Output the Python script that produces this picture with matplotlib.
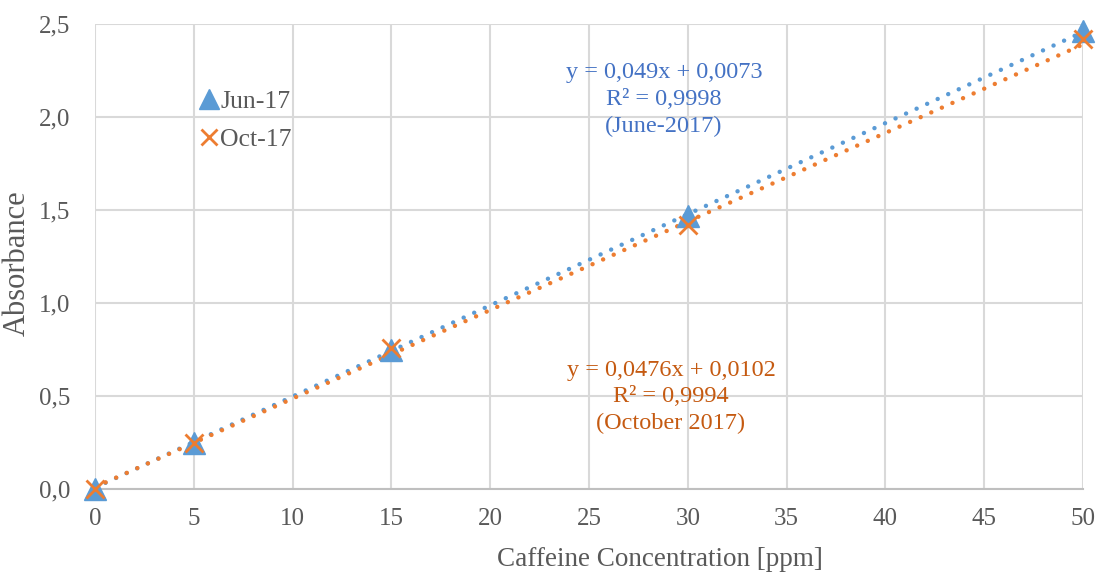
import matplotlib.pyplot as plt
import numpy as np

# caffeine calibration data
conc = [0, 5, 15, 30, 50]
abs_jun = [0.0, 0.25, 0.75, 1.47, 2.46]
abs_oct = [0.0, 0.25, 0.76, 1.42, 2.42]

# trend lines as reported
fit_jun = (0.049, 0.0073)
fit_oct = (0.0476, 0.0102)

blue = '#5B9BD5'
orange = '#ED7D31'
grid_col = '#D9D9D9'
text_col = '#595959'

plt.rcParams['font.family'] = ['Liberation Serif', 'DejaVu Serif']
plt.rcParams['font.size'] = 18

fig = plt.figure(figsize=(10.98, 5.76), dpi=100)
ax = fig.add_axes([0.0865, 0.151, 0.8998, 0.8073])

xs = np.array([0, 50])
ax.plot(xs, fit_jun[0] * xs + fit_jun[1], linestyle=(0, (0.01, 2.6)), color=blue,
        linewidth=3.2, dash_capstyle='round', zorder=2)
ax.plot(xs, fit_oct[0] * xs + fit_oct[1], linestyle=(0, (0.01, 2.6)), color=orange,
        linewidth=3.2, dash_capstyle='round', zorder=2)

ax.plot(conc, abs_jun, linestyle='none', marker='^', markersize=16, color=blue,
        label='Jun-17', zorder=3, clip_on=False)
ax.plot(conc, abs_oct, linestyle='none', marker='x', markersize=13, markeredgewidth=2,
        color=orange, label='Oct-17', zorder=4, clip_on=False)

ax.set_xlim(0, 50)
ax.set_ylim(0, 2.5)
ax.set_xticks(np.arange(0, 51, 5))
ax.set_yticks(np.arange(0, 2.51, 0.5))
ax.set_yticklabels([f'{v:.1f}'.replace('.', ',') for v in np.arange(0, 2.51, 0.5)])
ax.tick_params(length=0, colors=text_col, labelsize=18)
ax.tick_params(axis='x', pad=14)
ax.tick_params(axis='y', pad=18)

ax.grid(True, color=grid_col, linewidth=1.5)
ax.set_axisbelow(True)
for side in ['left', 'right', 'top']:
    ax.spines[side].set_visible(False)
ax.spines['bottom'].set_color('#BFBFBF')
ax.spines['bottom'].set_linewidth(1.5)

ax.set_xlabel('Caffeine Concentration [ppm]', color=text_col, fontsize=19.5)
ax.xaxis.set_label_coords(0.572, -0.125)
ax.set_ylabel('Absorbance', color=text_col, fontsize=22)
ax.yaxis.set_label_coords(-0.064, 0.486)

leg = ax.legend(loc='upper left', bbox_to_anchor=(0.106, 0.858), frameon=False,
                handlelength=0.7, handletextpad=0.1, labelspacing=0.6, fontsize=18.5,
                borderpad=0, borderaxespad=0, markerscale=0.9)
for t in leg.get_texts():
    t.set_color(text_col)

ax.text(0.576, 0.837, 'y = 0,049x + 0,0073\nR² = 0,9998\n(June-2017)', transform=ax.transAxes,
        ha='center', va='center', color='#4472C4', fontsize=17.5, linespacing=1.36)
ax.text(0.583, 0.198, 'y = 0,0476x + 0,0102\nR² = 0,9994\n(October 2017)', transform=ax.transAxes,
        ha='center', va='center', color='#C55A11', fontsize=17.5, linespacing=1.36)

fig.savefig('out.png', dpi=100)
